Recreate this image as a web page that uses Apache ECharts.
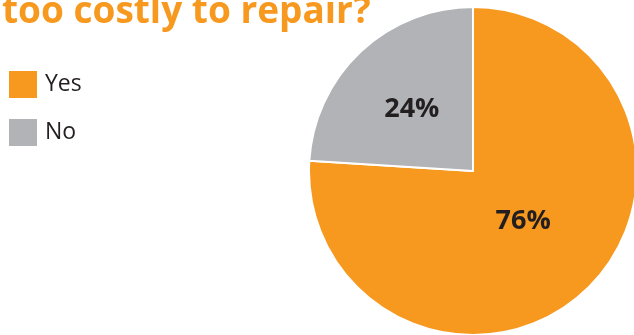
<!DOCTYPE html>
<html><head><meta charset="utf-8">
<script src="https://cdn.jsdelivr.net/npm/echarts@6/dist/echarts.min.js"></script>
<style>html,body{margin:0;padding:0;background:#fff}#c{width:634px;height:335px}</style>
</head><body><div id="c"></div>
<script>
const titleText = 'too costly to repair?';
const categories = ['Yes', 'No'];
const values = [76, 24];
const colors = ['#F7981F', '#B2B3B7'];

const chart = echarts.init(document.getElementById('c'));
chart.setOption({
  animation: false,
  title: {
    text: titleText,
    left: -3,
    top: -11,
    textStyle: { fontFamily: 'Open Sans', fontWeight: 'bold', fontSize: 37, color: '#F7981F' }
  },
  legend: {
    orient: 'vertical',
    left: 2,
    top: 64,
    itemWidth: 30,
    itemHeight: 29,
    itemGap: 17,
    icon: 'rect',
    data: categories,
    textStyle: { fontFamily: 'Open Sans', fontSize: 23, color: '#231F20', padding: [0, 0, 0, 2] }
  },
  series: [{
    type: 'pie',
    center: [473, 171],
    radius: 164,
    startAngle: 90,
    clockwise: true,
    label: {
      show: true,
      position: 'inside',
      formatter: '{c}%',
      fontFamily: 'Open Sans',
      fontWeight: 'bold',
      fontSize: 27,
      color: '#231F20'
    },
    labelLayout: function (p) {
      return p.dataIndex === 0 ? { dx: -8, dy: -12 } : { dx: -3, dy: 0 };
    },
    labelLine: { show: false },
    itemStyle: { borderColor: '#fff', borderWidth: 2 },
    data: categories.map((n, i) => ({ name: n, value: values[i], itemStyle: { color: colors[i] } }))
  }]
});
</script></body></html>
